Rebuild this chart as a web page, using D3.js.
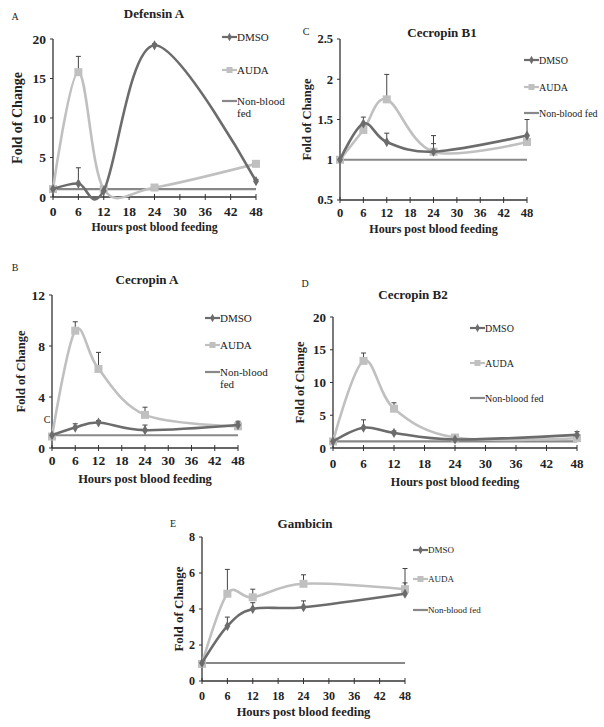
<!DOCTYPE html>
<html>
<head>
<meta charset="utf-8">
<script src="https://cdn.jsdelivr.net/npm/d3@7"></script>
<style>
  body { margin: 0; background: #fff; }
  svg text { font-family: "Liberation Serif", "DejaVu Serif", serif; fill: #222; }
</style>
</head>
<body>
<div id="chart"></div>
<script>
// hours post blood feeding (x values shared by every panel)
const hours = [0, 6, 12, 24, 48];
const xTicks = [0, 6, 12, 18, 24, 30, 36, 42, 48];
const nonBloodFed = [1, 1, 1, 1, 1];

// Defensin A
const defensinDmso = [1, 1.7, 0.8, 19.2, 2.0];
const defensinDmsoErr = [0, 2.0, 0, 0.2, 0.2];
const defensinAuda = [1, 15.8, 1.0, 1.2, 4.2];
const defensinAudaErr = [0, 2.0, 0, 0, 0.3];

// Cecropin B1
const cecB1Dmso = [1, 1.45, 1.22, 1.1, 1.3];
const cecB1DmsoErr = [0, 0.08, 0.11, 0.2, 0.2];
const cecB1Auda = [1, 1.37, 1.75, 1.1, 1.22];
const cecB1AudaErr = [0, 0, 0.31, 0.1, 0];

// Cecropin A
const cecADmso = [1, 1.6, 2.0, 1.4, 1.8];
const cecADmsoErr = [0, 0.3, 0.15, 0.4, 0.2];
const cecAAuda = [0.9, 9.2, 6.2, 2.6, 1.7];
const cecAAudaErr = [0, 0.7, 1.3, 0.6, 0.4];

// Cecropin B2
const cecB2Dmso = [1, 3.1, 2.3, 1.3, 2.0];
const cecB2DmsoErr = [0, 1.2, 0.3, 0, 0.5];
const cecB2Auda = [1, 13.3, 6.0, 1.6, 1.5];
const cecB2AudaErr = [0, 1.2, 0.9, 0, 0];

// Gambicin
const gamDmso = [1, 3.05, 4.0, 4.1, 4.85];
const gamDmsoErr = [0, 0.5, 0.35, 0.35, 0.6];
const gamAuda = [0.95, 4.85, 4.65, 5.4, 5.1];
const gamAudaErr = [0, 1.35, 0.45, 0.5, 1.15];

const seriesNames = ["DMSO", "AUDA", "Non-blood fed"];
const colors = { dmso: "#6c6c6c", auda: "#c0c0c0", nbf: "#888888", err: "#444" };

const svg = d3.select("#chart").append("svg")
    .attr("width", 604)
    .attr("height", 727);

// panel layout (pixel positions)
const panels = [
  { title: "Defensin A", letter: "A", x0: 53, x1: 256, yTop: 39, yBot: 197, yDomain: [0, 20], yTicks: [0, 5, 10, 15, 20],
    titleX: 154, titleY: 13, letterX: 15, letterY: 16, ylabX: 17, tickY: 211, xlabY: 227,
    legX: 222, legY: [37, 70, 101], twoLine: true, fs: 13.5, legFs: 11, ylabFs: 14, xlabFs: 11.8,
    dmso: defensinDmso, dmsoErr: defensinDmsoErr, auda: defensinAuda, audaErr: defensinAudaErr },
  { title: "Cecropin B1", letter: "C", x0: 340, x1: 527, yTop: 39, yBot: 200, yDomain: [0.5, 2.5], yTicks: [0.5, 1, 1.5, 2, 2.5],
    titleX: 442, titleY: 32, letterX: 306, letterY: 31, ylabX: 307, tickY: 213, xlabY: 229,
    legX: 524, legY: [60, 87, 113], twoLine: false, fs: 12.5, legFs: 10, ylabFs: 12.5, xlabFs: 12,
    dmso: cecB1Dmso, dmsoErr: cecB1DmsoErr, auda: cecB1Auda, audaErr: cecB1AudaErr },
  { title: "Cecropin A", letter: "B", x0: 52, x1: 238, yTop: 295, yBot: 448, yDomain: [0, 12], yTicks: [0, 4, 8, 12],
    titleX: 147, titleY: 279, letterX: 15, letterY: 267, ylabX: 21, tickY: 460, xlabY: 479,
    legX: 205, legY: [318, 345, 372], twoLine: true, fs: 13.5, legFs: 11, ylabFs: 12.5, xlabFs: 12.5,
    dmso: cecADmso, dmsoErr: cecADmsoErr, auda: cecAAuda, audaErr: cecAAudaErr },
  { title: "Cecropin B2", letter: "D", x0: 333, x1: 577, yTop: 317, yBot: 448, yDomain: [0, 20], yTicks: [0, 5, 10, 15, 20],
    titleX: 413, titleY: 294, letterX: 305, letterY: 283, ylabX: 300, tickY: 463, xlabY: 482,
    legX: 470, legY: [328, 363, 398], twoLine: false, fs: 13, legFs: 10, ylabFs: 12.5, xlabFs: 12,
    dmso: cecB2Dmso, dmsoErr: cecB2DmsoErr, auda: cecB2Auda, audaErr: cecB2AudaErr },
  { title: "Gambicin", letter: "E", x0: 202, x1: 405, yTop: 537, yBot: 681, yDomain: [0, 8], yTicks: [0, 2, 4, 6, 8],
    titleX: 305, titleY: 523, letterX: 173, letterY: 523, ylabX: 178, tickY: 696, xlabY: 712,
    legX: 413, legY: [550, 579, 610], twoLine: false, fs: 12, legFs: 9, ylabFs: 13, xlabFs: 12.5,
    dmso: gamDmso, dmsoErr: gamDmsoErr, auda: gamAuda, audaErr: gamAudaErr }
];

const diamond = d3.symbol().type(d3.symbolDiamond).size(30);

function drawPanel(p) {
  const g = svg.append("g");
  const x = d3.scaleLinear().domain([0, 48]).range([p.x0, p.x1]);
  const y = d3.scaleLinear().domain(p.yDomain).range([p.yBot, p.yTop]);
  const line = d3.line().x(d => x(d[0])).y(d => y(d[1])).curve(d3.curveCardinal);

  // axes
  g.append("line").attr("x1", p.x0).attr("x2", p.x0).attr("y1", p.yTop).attr("y2", p.yBot)
    .attr("stroke", "#333").attr("stroke-width", 1.3);
  g.append("line").attr("x1", p.x0).attr("x2", p.x1).attr("y1", p.yBot).attr("y2", p.yBot)
    .attr("stroke", "#333").attr("stroke-width", 1.3);
  g.selectAll(".yt").data(p.yTicks).join("line")
    .attr("x1", p.x0 - 3).attr("x2", p.x0).attr("y1", d => y(d)).attr("y2", d => y(d))
    .attr("stroke", "#333");
  g.selectAll(".ytl").data(p.yTicks).join("text")
    .attr("x", p.x0 - 7).attr("y", d => y(d)).attr("dy", "0.35em")
    .attr("text-anchor", "end").attr("font-weight", "bold").attr("font-size", p.fs)
    .text(d => d);
  g.selectAll(".xt").data(xTicks).join("line")
    .attr("x1", d => x(d)).attr("x2", d => x(d)).attr("y1", p.yBot - 3).attr("y2", p.yBot + 3)
    .attr("stroke", "#333");
  g.selectAll(".xtl").data(xTicks).join("text")
    .attr("x", d => x(d)).attr("y", p.tickY).attr("dy", "0.35em")
    .attr("text-anchor", "middle").attr("font-weight", "bold").attr("font-size", p.fs)
    .text(d => d);

  // titles and labels
  g.append("text").attr("x", p.titleX).attr("y", p.titleY).attr("dy", "0.35em")
    .attr("text-anchor", "middle").attr("font-weight", "bold").attr("font-size", 13).text(p.title);
  g.append("text").attr("x", p.letterX).attr("y", p.letterY).attr("dy", "0.35em")
    .attr("text-anchor", "middle").attr("font-size", 10).text(p.letter);
  g.append("text").attr("x", (p.x0 + p.x1) / 2).attr("y", p.xlabY).attr("dy", "0.35em")
    .attr("text-anchor", "middle").attr("font-weight", "bold").attr("font-size", p.xlabFs)
    .text("Hours post blood feeding");
  g.append("text")
    .attr("transform", `translate(${p.ylabX},${(p.yTop + p.yBot) / 2}) rotate(-90)`)
    .attr("dy", "0.35em").attr("text-anchor", "middle").attr("font-weight", "bold").attr("font-size", p.ylabFs)
    .text("Fold of Change");

  // series
  const nbf = hours.map((h, i) => [h, nonBloodFed[i]]);
  const auda = hours.map((h, i) => [h, p.auda[i], p.audaErr[i]]);
  const dmso = hours.map((h, i) => [h, p.dmso[i], p.dmsoErr[i]]);

  g.append("path").attr("d", d3.line().x(d => x(d[0])).y(d => y(d[1]))(nbf))
    .attr("fill", "none").attr("stroke", colors.nbf).attr("stroke-width", 2.2);

  [auda, dmso].forEach(s => {
    g.selectAll(null).data(s.filter(d => d[2] > 0)).join("path")
      .attr("d", d => `M${x(d[0])},${y(d[1])}V${y(d[1] + d[2])}M${x(d[0]) - 2.5},${y(d[1] + d[2])}h5`)
      .attr("stroke", colors.err).attr("stroke-width", 1).attr("fill", "none");
  });

  g.append("path").attr("d", line(auda)).attr("fill", "none")
    .attr("stroke", colors.auda).attr("stroke-width", 2.6);
  g.selectAll(null).data(auda).join("rect")
    .attr("x", d => x(d[0]) - 4).attr("y", d => y(d[1]) - 4).attr("width", 8).attr("height", 8)
    .attr("fill", colors.auda);

  g.append("path").attr("d", line(dmso)).attr("fill", "none")
    .attr("stroke", colors.dmso).attr("stroke-width", 2.6);
  g.selectAll(null).data(dmso).join("path")
    .attr("d", diamond).attr("transform", d => `translate(${x(d[0])},${y(d[1])})`)
    .attr("fill", colors.dmso);

  // legend
  const legCols = [colors.dmso, colors.auda, colors.nbf];
  seriesNames.forEach((name, i) => {
    const ly = p.legY[i];
    g.append("line").attr("x1", p.legX).attr("x2", p.legX + 15).attr("y1", ly).attr("y2", ly)
      .attr("stroke", legCols[i]).attr("stroke-width", 2.2);
    if (i === 0) g.append("path").attr("d", d3.symbol().type(d3.symbolDiamond).size(20))
      .attr("transform", `translate(${p.legX + 7.5},${ly})`).attr("fill", legCols[i]);
    if (i === 1) g.append("rect").attr("x", p.legX + 4.5).attr("y", ly - 3).attr("width", 6).attr("height", 6)
      .attr("fill", legCols[i]);
    const t = g.append("text").attr("x", p.legX + 15).attr("y", ly).attr("dy", "0.35em")
      .attr("font-size", p.legFs);
    if (i === 2 && p.twoLine) {
      t.text("Non-blood");
      g.append("text").attr("x", p.legX + 15).attr("y", ly + 12).attr("dy", "0.35em")
        .attr("font-size", p.legFs).text("fed");
    } else {
      t.text(name);
    }
  });
}

panels.forEach(drawPanel);

// stray "C" label left inside panel B in the original figure
svg.append("text").attr("x", 47).attr("y", 419).attr("dy", "0.35em")
  .attr("text-anchor", "middle").attr("font-size", 10).text("C");
</script>
</body>
</html>
